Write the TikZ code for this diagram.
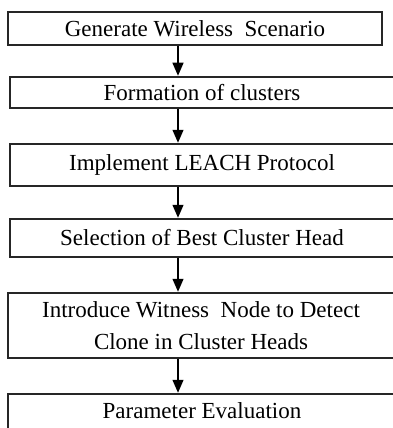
\documentclass[tikz,border=0pt]{standalone}
\usepackage{fontspec}
\setmainfont{Liberation Serif}
\usetikzlibrary{arrows.meta}
\begin{document}
\begin{tikzpicture}[x=1pt,y=-1pt,
  flowbox/.style={draw=black!85, line width=1.3pt, rectangle, inner sep=0pt, align=center,
    font=\fontsize{23}{32}\selectfont, text=black},
  flowarrow/.style={draw=black, line width=1.3pt, -{Triangle[width=11pt,length=13pt]}, shorten >=0.6pt}]
\useasboundingbox (0,0) rectangle (393,428);
\clip (0,0) rectangle (393,428);
\fill[white] (0,0) rectangle (393,428);
\node[flowbox, minimum width=374pt, minimum height=33pt] (b1) at (195,28.5) {Generate Wireless\ \ Scenario};
\node[flowbox, minimum width=384pt, minimum height=31pt] (b2) at (202,92.5) {Formation of clusters};
\node[flowbox, minimum width=384pt, minimum height=42pt] (b3) at (202,165) {Implement LEACH Protocol};
\node[flowbox, minimum width=384pt, minimum height=38pt] (b4) at (202,238) {Selection of Best Cluster Head};
\node[flowbox, minimum width=386pt, minimum height=65pt] (b5) at (201,325.5) {Introduce Witness\ \ Node to Detect\\Clone in Cluster Heads};
\node[flowbox, minimum width=386pt, minimum height=44pt] (b6) at (201,416) {};
\node[font=\fontsize{23}{32}\selectfont, text=black, inner sep=0pt, anchor=base] (t6) at (202,418) {Parameter Evaluation};
\coordinate (ax) at (178,0);
\draw[flowarrow] (b1.south -| ax) -- (b2.north -| ax);
\draw[flowarrow] (b2.south -| ax) -- (b3.north -| ax);
\draw[flowarrow] (b3.south -| ax) -- (b4.north -| ax);
\draw[flowarrow] (b4.south -| ax) -- (b5.north -| ax);
\draw[flowarrow] (b5.south -| ax) -- (b6.north -| ax);
\end{tikzpicture}
\end{document}
